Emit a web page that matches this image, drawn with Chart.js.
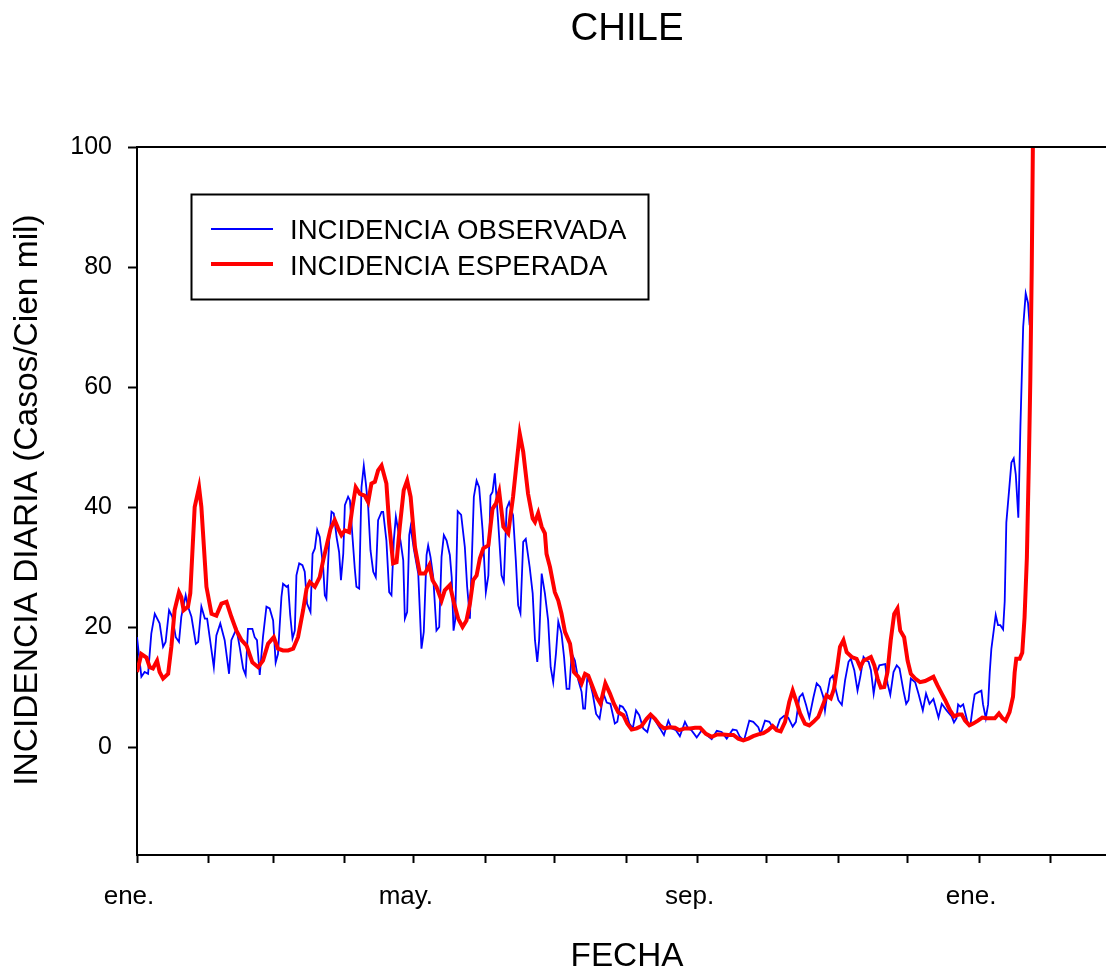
<!DOCTYPE html>
<html>
<head>
<meta charset="utf-8">
<script src="https://cdn.jsdelivr.net/npm/chart.js@4"></script>
<style>
html,body{margin:0;padding:0;background:#fff;}
canvas{display:block;}
</style>
</head>
<body>
<canvas id="c" width="1106" height="968"></canvas>
<script>
// Days counted from 1 Jan 2021
const obsDays = [0,1.9,3.3,4.8,6.2,7.7,9.8,11.3,12.4,13.9,15.3,16.8,18.2,19.2,21.1,22.1,23.6,25.5,26.5,27.9,29.4,30.4,31.5,33.3,34.4,36.1,38.0,39.9,40.9,43.1,44.5,46.0,47.1,48.1,50.0,51.0,52.0,53.2,54.6,56.1,57.5,59.0,60.1,61.1,62.6,63.3,64.8,65.5,66.4,67.4,68.4,69.1,70.3,71.7,72.7,73.7,75.2,76.1,77.1,78.1,79.2,80.7,81.4,82.1,83.3,84.3,85.3,86.5,87.6,88.4,89.4,90.1,91.5,92.3,93.4,94.4,95.1,96.3,97.3,98.3,99.2,100.2,101.2,102.4,103.5,104.5,106.0,106.7,108.1,109.3,110.3,111.3,112.2,113.2,114.2,115.4,116.1,117.1,118.0,118.6,120.0,121.9,123.3,124.3,125.5,126.2,127.2,128.4,129.8,131.0,132.0,133.0,134.2,135.6,136.4,137.2,137.9,139.0,140.5,142.1,143.1,144.3,146.0,147.2,148.3,149.8,151.2,152.3,153.2,154.1,155.1,156.5,158.0,159.0,160.2,161.3,163.0,164.2,165.2,166.2,167.4,168.5,170.2,171.5,172.5,173.5,174.3,175.4,176.8,178.2,179.3,180.4,181.6,182.6,184.0,185.1,186.2,187.4,188.4,189.8,191.3,192.7,193.4,194.2,195.2,196.4,197.5,199.0,200.5,202.2,203.6,205.2,207.1,208.2,209.3,210.5,212.0,213.4,214.9,216.3,217.7,219.4,221.2,223.0,224.9,226.7,228.4,230.3,231.7,233.6,235.3,237.5,238.9,240.3,242.6,244.8,246.9,249.1,251.3,253.4,255.6,258.2,259.9,261.3,263.1,265.4,267.1,269.3,270.3,272.2,274.1,275.1,277.0,278.7,280.5,282.3,284.2,285.6,287.1,288.5,290.0,291.4,293.2,294.6,296.1,297.5,298.2,299.2,300.4,301.6,302.6,304.0,305.5,306.9,308.4,309.4,310.9,312.3,313.5,314.9,316.1,317.1,318.1,319.3,320.7,321.8,324.3,325.3,326.5,327.9,329.3,330.5,332.2,333.4,334.4,335.4,337.3,338.7,340.6,342.0,343.5,345.2,347.4,348.8,350.9,353.1,354.1,355.2,355.9,356.9,358.1,359.2,360.2,361.2,362.4,363.1,364.5,366.0,366.7,367.9,368.9,369.6,370.3,371.4,372.2,373.2,374.2,375.4,376.1,376.8,378.0,379.0,380.0,380.9,382.0,382.9,384.1,385.2,386.2,386.9];
const obsValues = [18.3,11.7,12.5,12.2,18.9,22.2,20.6,16.7,17.5,22.8,21.7,18.3,17.5,21.7,25.3,23.4,21.7,17.2,17.5,23.4,21.4,21.4,18.3,13.3,18.6,20.6,17.8,12.2,17.8,19.7,16.7,13.1,12.0,19.7,19.7,18.3,17.8,12.0,18.3,23.4,23.1,21.1,14.1,15.5,25.0,27.2,26.7,26.9,22.0,18.1,19.4,28.6,30.6,30.3,29.2,23.9,22.5,32.2,33.1,36.2,35.0,30.0,25.3,24.7,34.4,39.2,38.9,35.0,32.5,27.8,32.2,40.3,41.7,41.1,35.0,29.7,26.7,26.4,43.3,46.9,43.9,40.0,32.8,29.2,28.3,37.8,39.2,39.2,34.4,25.8,25.3,34.4,38.4,36.1,34.4,31.1,21.4,22.5,35.3,36.7,33.0,28.9,16.4,19.2,32.0,33.6,31.7,28.3,19.4,20.0,31.7,35.3,34.4,32.0,28.3,19.4,21.1,39.3,38.7,33.3,26.7,21.4,41.7,44.4,43.3,36.1,25.8,28.6,41.9,42.5,45.6,37.8,28.6,27.5,39.7,40.8,38.6,31.1,23.6,22.3,34.2,34.7,30.0,25.6,17.8,14.2,17.8,28.9,25.6,21.1,13.3,10.8,15.6,20.9,18.9,15.0,9.7,9.7,15.6,14.4,11.1,9.2,6.4,6.4,11.7,10.6,8.9,5.5,4.7,8.9,7.4,7.2,3.9,4.2,6.9,6.7,5.8,3.9,3.1,6.1,5.3,3.1,2.5,5.3,4.2,3.1,2.0,4.4,3.1,2.8,1.8,4.2,3.1,2.8,1.6,2.8,2.0,1.3,2.7,2.5,1.4,2.9,2.8,1.7,1.1,4.4,4.2,3.3,2.2,4.4,4.2,3.6,2.8,4.6,5.2,4.9,3.4,4.2,8.3,8.9,7.0,4.9,8.3,10.6,10.0,8.3,6.1,8.9,11.4,11.9,10.0,7.8,7.0,11.1,14.2,14.7,12.8,9.4,11.7,15.0,14.4,14.2,12.8,8.9,12.5,13.6,13.8,10.6,8.7,12.5,13.6,13.1,9.4,7.2,7.8,11.4,10.8,8.9,6.1,8.9,7.2,8.0,4.9,7.2,6.1,5.1,4.1,4.8,7.1,6.7,7.1,5.4,3.8,3.6,7.1,8.8,9.1,9.4,7.1,4.8,7.1,12.4,16.3,19.6,22.0,20.3,20.3,19.6,24.3,37.4,42.8,47.4,48.1,45.4,38.2,53.4,70.0,75.6,74.0,70.3];

const expDays = [0,1.9,4.1,5.5,6.9,8.7,9.8,11.3,13.5,14.9,16.3,18.2,19.2,20.2,22.1,23.1,25.0,26.9,27.9,30.1,32.3,34.4,36.6,38.8,40.9,43.1,45.3,47.5,50.0,52.5,54.6,56.8,59.3,61.1,63.3,65.5,67.7,69.8,72.0,73.5,74.9,77.1,79.2,80.7,82.4,83.9,85.7,87.2,88.6,90.1,91.9,93.4,94.8,96.6,98.7,100.2,101.6,103.1,104.5,106.0,108.1,109.3,111.0,112.5,113.9,115.6,117.1,118.6,120.5,122.6,124.8,126.7,128.1,129.8,132.0,133.4,135.6,137.4,139.2,141.1,142.8,144.3,145.7,147.2,148.6,150.1,152.3,154.1,155.6,157.0,158.8,160.9,163.0,164.5,165.9,167.4,169.5,171.5,172.5,173.9,175.4,176.8,177.5,179.0,181.1,182.6,184.0,185.5,187.7,189.4,191.3,192.7,194.2,195.6,197.5,199.2,200.9,203.0,205.0,206.7,208.6,210.8,212.5,214.4,216.6,218.7,220.9,222.6,224.5,226.7,228.4,231.0,233.2,235.1,237.5,239.7,241.9,244.1,246.6,249.1,251.5,254.1,256.3,258.5,260.6,262.8,265.0,267.1,269.3,271.5,273.6,275.5,277.3,279.0,280.9,282.7,284.2,285.6,287.4,289.5,291.4,293.2,295.3,297.2,298.9,300.7,302.1,303.6,304.7,306.2,307.6,309.8,311.9,313.5,314.9,316.6,318.1,319.6,321.0,322.4,323.9,325.3,326.7,328.2,329.6,330.8,332.5,334.0,335.4,337.3,339.4,341.6,343.7,345.2,346.9,348.8,350.3,352.4,354.1,356.0,357.5,358.9,360.8,362.4,364.5,366.4,368.2,370.3,371.8,373.6,375.1,376.5,378.2,379.7,380.4,381.1,382.6,383.7,384.7,385.7,386.6,387.2,387.8,388.3,389.0];
const expValues = [12.5,15.5,14.9,13.3,13.1,14.4,12.5,11.4,12.2,16.7,22.8,25.8,25.0,22.8,23.4,25.6,40.0,43.3,40.0,26.7,22.2,21.9,23.9,24.2,21.7,19.4,17.8,16.9,14.1,13.3,14.4,17.2,18.3,16.4,16.1,16.1,16.4,18.3,22.8,26.4,27.5,26.7,28.3,31.1,33.9,36.4,37.8,36.4,35.3,36.1,35.8,40.0,43.3,42.2,41.9,40.8,43.9,44.2,46.1,46.9,43.9,37.2,30.6,30.8,36.7,42.8,44.4,41.7,33.3,28.9,28.9,30.3,27.8,26.7,24.4,26.1,27.0,24.0,21.4,20.0,21.1,23.9,27.8,28.6,31.4,33.1,33.6,39.7,40.6,42.5,36.7,35.6,41.7,47.2,52.2,49.2,42.2,38.1,37.5,39.0,36.7,35.6,32.2,30.0,25.8,24.4,22.2,19.2,17.2,12.5,11.7,10.6,12.2,11.9,10.0,8.3,7.2,10.6,8.9,7.2,5.8,5.3,3.9,2.9,3.1,3.5,4.7,5.4,4.7,3.6,3.1,3.3,3.2,2.8,3.1,3.1,3.2,3.2,2.2,1.7,2.1,2.1,2.0,2.0,1.4,1.1,1.4,1.8,2.1,2.3,2.8,3.5,2.8,2.6,4.2,7.5,9.4,7.8,5.6,3.9,3.6,4.2,5.0,6.9,8.6,8.1,9.7,13.6,16.7,17.8,15.8,15.0,14.7,13.3,14.4,14.7,15.0,13.6,11.4,9.9,10.0,12.5,17.8,22.2,23.1,19.4,18.3,14.4,12.2,11.4,10.8,11.0,11.4,11.7,10.3,8.9,7.8,6.1,5.1,5.4,5.4,4.4,3.6,3.9,4.4,4.9,4.8,4.8,4.8,5.6,4.8,4.4,5.8,8.4,12.4,14.7,14.7,15.7,21.6,31.5,48.1,61.3,79.2,100,130];

const xTickDays = [0,31,59,90,120,151,181,212,243,273,304,334,365,396];
const xTickLabels = ['ene.','','','','may.','','','','sep.','','','','ene.',''];
const yTicks = [0,20,40,60,80,100];
const seriesNames = ['INCIDENCIA OBSERVADA','INCIDENCIA ESPERADA'];
const seriesColors = ['#0000ff','#ff0000'];

const FONT = '"Liberation Sans", Arial, Helvetica, sans-serif';

const textPlugin = {
  id: 'texts',
  afterDraw(chart) {
    const ctx = chart.ctx;
    const ca = chart.chartArea;
    ctx.save();
    // top frame line
    ctx.strokeStyle = '#000';
    ctx.lineWidth = 2;
    ctx.beginPath();
    ctx.moveTo(ca.left, ca.top);
    ctx.lineTo(ca.right, ca.top);
    ctx.stroke();
    ctx.fillStyle = '#000';
    // title
    ctx.font = '38.4px ' + FONT;
    ctx.textAlign = 'center';
    ctx.textBaseline = 'alphabetic';
    ctx.fillText('CHILE', 627, 39.5);
    // x title
    ctx.font = '33.3px ' + FONT;
    ctx.fillText('FECHA', 627, 966);
    // y title
    ctx.save();
    ctx.translate(37, 500);
    ctx.rotate(-Math.PI / 2);
    ctx.font = '33.5px ' + FONT;
    ctx.fillText('INCIDENCIA DIARIA (Casos/Cien mil)', 0, 0);
    ctx.restore();
    // legend
    ctx.lineWidth = 2;
    ctx.strokeRect(191.5, 194.5, 457, 105);
    const rows = [229, 264];
    const widths = [1.8, 4];
    const bases = [239, 275];
    ctx.font = '27.6px ' + FONT;
    ctx.textAlign = 'left';
    for (let i = 0; i < 2; i++) {
      ctx.strokeStyle = seriesColors[i];
      ctx.lineWidth = widths[i];
      ctx.beginPath();
      ctx.moveTo(211, rows[i]);
      ctx.lineTo(273, rows[i]);
      ctx.stroke();
      ctx.fillStyle = '#000';
      ctx.fillText(seriesNames[i], 290, bases[i]);
    }
    ctx.restore();
  }
};

new Chart(document.getElementById('c'), {
  type: 'line',
  data: {
    datasets: [
      {
        label: seriesNames[1],
        data: expDays.map((d, i) => ({x: d, y: expValues[i]})),
        borderColor: seriesColors[1],
        borderWidth: 4,
        pointRadius: 0,
        tension: 0,
        fill: false,
        order: 0
      },
      {
        label: seriesNames[0],
        data: obsDays.map((d, i) => ({x: d, y: obsValues[i]})),
        borderColor: seriesColors[0],
        borderWidth: 1.8,
        pointRadius: 0,
        tension: 0,
        fill: false,
        order: 1
      }
    ]
  },
  options: {
    responsive: false,
    animation: false,
    devicePixelRatio: 1,
    layout: { padding: { top: 147, right: 0, left: 0, bottom: 0 } },
    plugins: { legend: { display: false }, tooltip: { enabled: false }, title: { display: false } },
    scales: {
      x: {
        type: 'linear',
        min: 0,
        max: 420,
        position: 'bottom',
        afterBuildTicks(scale) { scale.ticks = xTickDays.map(v => ({value: v})); },
        afterFit(scale) { scale.height = 113; },
        grid: { display: true, drawOnChartArea: false, drawTicks: true, tickLength: 8, color: '#000', tickWidth: 2 },
        border: { display: true, color: '#000', width: 2 },
        ticks: {
          autoSkip: false,
          maxRotation: 0,
          minRotation: 0,
          padding: 18,
          labelOffset: -8,
          color: '#000',
          font: { family: FONT, size: 26 },
          callback(value) {
            const i = xTickDays.indexOf(value);
            return i >= 0 ? xTickLabels[i] : '';
          }
        }
      },
      y: {
        type: 'linear',
        min: -18,
        max: 100,
        afterBuildTicks(scale) { scale.ticks = yTicks.map(v => ({value: v})); },
        afterFit(scale) { scale.width = 137; },
        grid: { display: true, drawOnChartArea: false, drawTicks: true, tickLength: 9, color: '#000', tickWidth: 2 },
        border: { display: true, color: '#000', width: 2 },
        ticks: {
          padding: 16,
          color: '#000',
          font: { family: FONT, size: 25 },
          callback(value) { return String(value); }
        }
      }
    }
  },
  plugins: [textPlugin]
});
</script>
</body>
</html>
